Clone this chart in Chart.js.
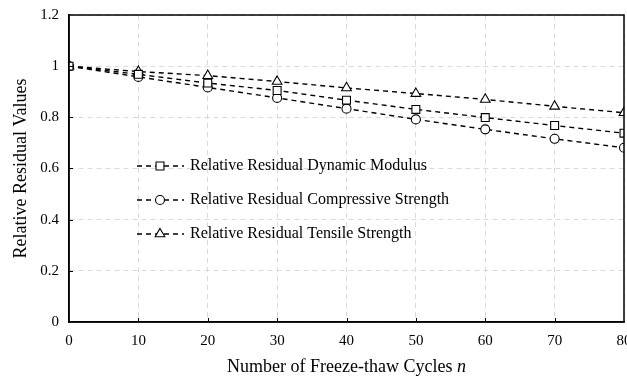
<!DOCTYPE html>
<html>
<head>
<meta charset="utf-8">
<script src="https://cdn.jsdelivr.net/npm/chart.js@4/dist/chart.umd.min.js"></script>
<style>
html,body{margin:0;padding:0;background:#fff;overflow:hidden;}
#wrap{width:627px;height:379px;position:relative;overflow:hidden;}
</style>
</head>
<body>
<div id="wrap"><canvas id="c" width="640" height="379"></canvas></div>
<script>
const cycles = [0, 10, 20, 30, 40, 50, 60, 70, 80];
const dynamicModulus = [1, 0.968, 0.934, 0.905, 0.867, 0.831, 0.799, 0.768, 0.738];
const compressiveStrength = [1, 0.958, 0.917, 0.876, 0.834, 0.792, 0.753, 0.716, 0.681];
const tensileStrength = [1, 0.979, 0.963, 0.940, 0.915, 0.893, 0.870, 0.843, 0.818];
const seriesNames = [
  'Relative Residual Dynamic Modulus',
  'Relative Residual Compressive Strength',
  'Relative Residual Tensile Strength'
];
const xTitle = 'Number of Freeze-thaw Cycles ';
const xTitleVar = 'n';
const yTitle = 'Relative Residual Values';

const FONT = "'Liberation Serif', 'Times New Roman', serif";

function mk(label, vals, style, r) {
  return {
    label: label,
    data: cycles.map((x, i) => ({x: x, y: vals[i]})),
    borderColor: '#000',
    borderWidth: 1.4,
    borderDash: [5, 4],
    pointStyle: style,
    pointRadius: r,
    pointHoverRadius: r,
    pointBackgroundColor: '#fff',
    pointBorderColor: '#000',
    pointBorderWidth: 1.1,
    fill: false,
    tension: 0
  };
}

const deco = {
  id: 'deco',
  afterDraw(chart) {
    const ctx = chart.ctx;
    const a = chart.chartArea;
    const xs = chart.scales.x, ys = chart.scales.y;
    ctx.save();
    // inward ticks
    ctx.strokeStyle = '#000';
    ctx.lineWidth = 1;
    ctx.setLineDash([]);
    for (let v = 10; v < 80; v += 10) {
      const px = Math.round(xs.getPixelForValue(v)) + 0.5;
      ctx.beginPath(); ctx.moveTo(px, a.bottom); ctx.lineTo(px, a.bottom - 4); ctx.stroke();
    }
    for (let v = 0.2; v < 1.19; v += 0.2) {
      const py = Math.round(ys.getPixelForValue(v)) + 0.5;
      ctx.beginPath(); ctx.moveTo(a.left, py); ctx.lineTo(a.left + 4, py); ctx.stroke();
    }
    // frame
    ctx.lineWidth = 1.5;
    ctx.strokeRect(a.left, a.top, a.right - a.left, a.bottom - a.top);

    // legend
    const rows = [166, 200, 234];
    chart.data.datasets.forEach((ds, i) => {
      const y = rows[i];
      ctx.strokeStyle = '#000';
      ctx.lineWidth = 1.4;
      ctx.setLineDash([5, 4]);
      ctx.beginPath(); ctx.moveTo(137, y); ctx.lineTo(184, y); ctx.stroke();
      ctx.setLineDash([]);
      ctx.lineWidth = 1.1;
      ctx.fillStyle = '#fff';
      Chart.helpers.drawPoint(ctx, {pointStyle: ds.pointStyle, radius: ds.pointRadius, rotation: 0, borderWidth: 1.1}, 160, y);
      ctx.fillStyle = '#000';
      ctx.font = '16px ' + FONT;
      ctx.textAlign = 'left';
      ctx.textBaseline = 'middle';
      ctx.fillText(ds.label, 190, y);
    });

    // axis titles
    ctx.fillStyle = '#000';
    ctx.font = '18px ' + FONT;
    ctx.textBaseline = 'middle';
    const w1 = ctx.measureText(xTitle).width;
    ctx.font = 'italic 18px ' + FONT;
    const w2 = ctx.measureText(xTitleVar).width;
    const cx = (a.left + a.right) / 2;
    let sx = cx - (w1 + w2) / 2;
    ctx.textAlign = 'left';
    ctx.font = '18px ' + FONT;
    ctx.fillText(xTitle, sx, 367);
    ctx.font = 'italic 18px ' + FONT;
    ctx.fillText(xTitleVar, sx + w1, 367);

    ctx.translate(21, (a.top + a.bottom) / 2);
    ctx.rotate(-Math.PI / 2);
    ctx.textAlign = 'center';
    ctx.font = '18px ' + FONT;
    ctx.fillText(yTitle, 0, 0);
    ctx.restore();
  }
};

new Chart(document.getElementById('c'), {
  type: 'line',
  data: {
    datasets: [
      mk(seriesNames[0], dynamicModulus, 'rect', 5.6),
      mk(seriesNames[1], compressiveStrength, 'circle', 4.5),
      mk(seriesNames[2], tensileStrength, 'triangle', 5.6)
    ]
  },
  options: {
    responsive: false,
    animation: false,
    devicePixelRatio: 1,
    layout: {padding: {top: 15, right: 16, left: 0, bottom: 0}},
    plugins: {legend: {display: false}, tooltip: {enabled: false}},
    scales: {
      x: {
        type: 'linear', min: 0, max: 80,
        ticks: {stepSize: 10, color: '#000', font: {family: FONT, size: 15}, padding: 10, maxRotation: 0},
        grid: {color: '#dadada', lineWidth: 1, drawTicks: false},
        border: {display: true, color: '#000', width: 1.5, dash: [5, 4]},
        afterFit(s) { s.height = 57; s.paddingLeft = 0; s.paddingRight = 0; }
      },
      y: {
        min: 0, max: 1.2,
        ticks: {stepSize: 0.2, color: '#000', font: {family: FONT, size: 15}, padding: 10,
          callback: v => String(Number(v.toFixed(2)))},
        grid: {color: '#dadada', lineWidth: 1, drawTicks: false},
        border: {display: true, color: '#000', width: 1.5, dash: [5, 4]},
        afterFit(s) { s.width = 69; s.paddingTop = 0; s.paddingBottom = 0; }
      }
    }
  },
  plugins: [deco]
});
</script>
</body>
</html>
